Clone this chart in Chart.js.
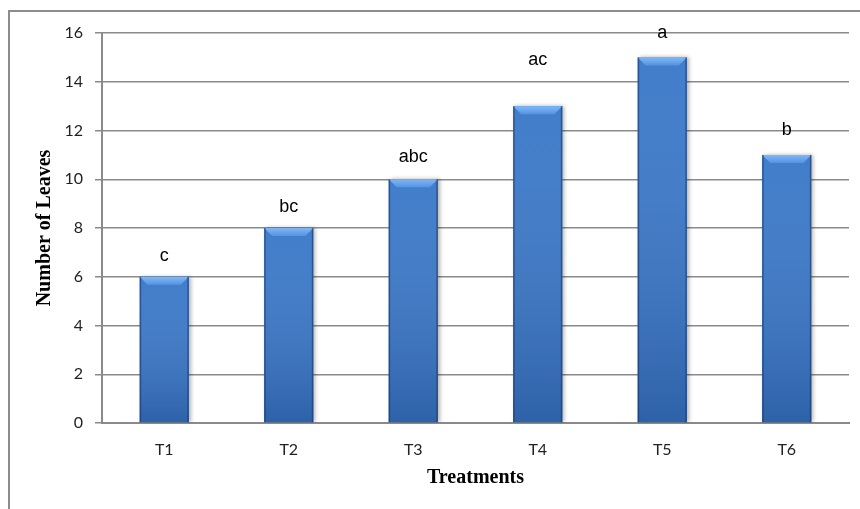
<!DOCTYPE html>
<html>
<head>
<meta charset="utf-8">
<script src="https://cdn.jsdelivr.net/npm/chart.js@4/dist/chart.umd.min.js"></script>
<style>
  html, body { margin: 0; padding: 0; background: #fff; }
  #wrap { position: relative; width: 860px; height: 509px; overflow: hidden; }
  #frame { position: absolute; left: 8px; top: 10px; width: 900px; height: 600px; border: 2px solid #8c8c8c; box-sizing: border-box; }
  canvas { position: absolute; left: 0; top: 0; }
</style>
</head>
<body>
<div id="wrap">
  <div id="frame"></div>
  <canvas id="leavesChart" width="860" height="509"></canvas>
</div>
<script>
const treatments = ['T1', 'T2', 'T3', 'T4', 'T5', 'T6'];
const leafCounts = [6, 8, 10, 13, 15, 11];
const letterLabels = ['c', 'bc', 'abc', 'ac', 'a', 'b'];
// height (in axis units) where each letter sits
const letterHeights = [6.85, 8.85, 10.9, 14.9, 16.0, 12.0];

function barFill(context) {
  const chart = context.chart;
  const el = context.element;
  if (!el || !chart.chartArea || !Number.isFinite(el.x) || !Number.isFinite(el.width)) return '#3a78c8';
  const half = el.width / 2;
  const g = chart.ctx.createLinearGradient(el.x - half, 0, el.x + half, 0);
  g.addColorStop(0, '#28559a');
  g.addColorStop(0.12, '#356fbe');
  g.addColorStop(0.5, '#3e7fd3');
  g.addColorStop(0.88, '#356fbe');
  g.addColorStop(1, '#214d8c');
  return g;
}

const barBevel = {
  id: 'barBevel',
  afterDatasetsDraw(chart) {
    const ctx = chart.ctx;
    const meta = chart.getDatasetMeta(0);
    meta.data.forEach(bar => {
      const left = bar.x - bar.width / 2;
      const right = bar.x + bar.width / 2;
      const top = bar.y;
      const bottom = bar.base;
      if (![left, right, top, bottom].every(Number.isFinite)) return;
      ctx.save();
      // darker toward the bottom
      const vg = ctx.createLinearGradient(0, top, 0, bottom);
      vg.addColorStop(0, 'rgba(255,255,255,0.04)');
      vg.addColorStop(1, 'rgba(0,20,60,0.22)');
      ctx.fillStyle = vg;
      ctx.fillRect(left, top, right - left, bottom - top);
      // light top bevel
      const bh = 8;
      ctx.beginPath();
      ctx.moveTo(left, top);
      ctx.lineTo(right, top);
      ctx.lineTo(right - bh, top + bh);
      ctx.lineTo(left + bh, top + bh);
      ctx.closePath();
      const tg = ctx.createLinearGradient(0, top, 0, top + bh);
      tg.addColorStop(0, '#80b8f6');
      tg.addColorStop(1, '#5594e2');
      ctx.fillStyle = tg;
      ctx.fill();
      // side edges
      ctx.fillStyle = 'rgba(20,50,100,0.55)';
      ctx.fillRect(left, top, 1.5, bottom - top);
      ctx.fillRect(right - 1.5, top, 1.5, bottom - top);
      ctx.restore();
    });
  }
};

const letterPlugin = {
  id: 'letterPlugin',
  afterDatasetsDraw(chart) {
    const ctx = chart.ctx;
    const yScale = chart.scales.y;
    const meta = chart.getDatasetMeta(0);
    ctx.save();
    ctx.font = '18px "Liberation Sans", Arial, sans-serif';
    ctx.fillStyle = '#000';
    ctx.textAlign = 'center';
    ctx.textBaseline = 'middle';
    meta.data.forEach((bar, i) => {
      ctx.fillText(letterLabels[i], bar.x, yScale.getPixelForValue(letterHeights[i]));
    });
    ctx.restore();
  }
};

const barShadow = {
  id: 'barShadow',
  beforeDatasetsDraw(chart) {
    const ctx = chart.ctx;
    ctx.save();
    ctx.shadowColor = 'rgba(0,0,0,0.3)';
    ctx.shadowBlur = 4;
    ctx.shadowOffsetX = 2;
    ctx.shadowOffsetY = 0;
  },
  afterDatasetsDraw(chart) {
    chart.ctx.restore();
  }
};

const tickFont = { family: 'Lato, "Open Sans", sans-serif', size: 16 };
const titleFont = { family: '"Liberation Serif", "Times New Roman", serif', size: 20, weight: 'bold' };

new Chart(document.getElementById('leavesChart'), {
  type: 'bar',
  data: {
    labels: treatments,
    datasets: [{
      data: leafCounts,
      backgroundColor: barFill,
      borderWidth: 0,
      categoryPercentage: 1,
      barPercentage: 0.395
    }]
  },
  plugins: [barShadow, barBevel, letterPlugin],
  options: {
    responsive: false,
    animation: false,
    devicePixelRatio: 1,
    layout: { padding: { top: 33, right: 11, bottom: 0, left: 0 } },
    plugins: {
      legend: { display: false },
      tooltip: { enabled: false }
    },
    scales: {
      x: {
        grid: { display: false, drawTicks: false },
        border: { display: true, color: '#8a8a8a', width: 2 },
        ticks: { color: '#222', font: tickFont, padding: 17 },
        title: { display: true, text: 'Treatments', color: '#000', font: titleFont, padding: { top: 0, bottom: 19 } },
        afterFit: (scale) => { scale.height = 86; }
      },
      y: {
        min: 0,
        max: 16,
        ticks: { stepSize: 2, color: '#222', font: tickFont, padding: 12 },
        grid: { color: '#8a8a8a', lineWidth: 1.5, tickLength: 7, tickColor: '#8a8a8a' },
        border: { display: true, color: '#8a8a8a', width: 2 },
        title: { display: true, text: 'Number of Leaves', color: '#000', font: titleFont, padding: { top: 33, bottom: 0 } },
        afterFit: (scale) => { scale.width = 102; }
      }
    }
  }
});
</script>
</body>
</html>
